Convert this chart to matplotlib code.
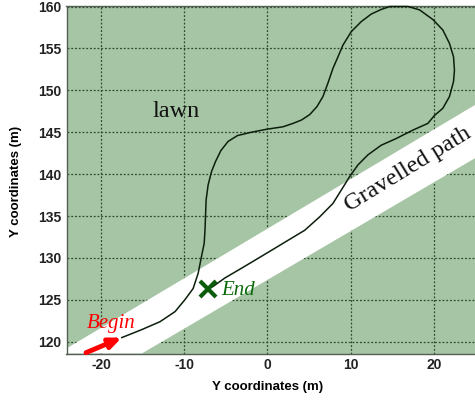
import matplotlib
matplotlib.use('Agg')
import matplotlib.pyplot as plt

plt.rcParams['axes.unicode_minus'] = False

# trajectory (m)
path_x = [-17.5, -15.1, -12.9, -11.1, -9.93, -8.93, -8.33, -7.93, -7.6, -7.5, -7.37, -7.13, -6.72,
          -6.24, -5.6, -4.73, -3.6, -1.92, -0.12, 1.87, 3.07, 4.08, 5.08, 5.95, 6.67, 7.27, 7.87,
          8.48, 9.08, 10.08, 11.28, 12.48, 13.68, 14.7, 16.9, 18.28, 19.88, 21.08, 21.88, 22.37,
          22.48, 22.37, 21.88, 21.08, 20.08, 19.28, 17.48, 15.48, 13.68, 12.08, 10.88, 9.88, 8.88,
          7.87, 6.28, 4.48, 2.47, -0.12, -2.73, -5.13, -6.53, -7.2]
path_y = [120.5, 121.45, 122.4, 123.6, 125.0, 126.35, 128.15, 130.15, 131.75, 133.4, 136.9, 138.7,
          140.3, 141.5, 142.8, 143.9, 144.6, 145.0, 145.35, 145.65, 146.05, 146.45, 147.1, 148.05,
          149.25, 150.85, 152.6, 154.0, 155.4, 157.0, 158.2, 159.1, 159.65, 160.0, 160.0, 159.6,
          158.45, 157.2, 155.6, 154.0, 152.4, 151.05, 149.25, 147.85, 147.0, 146.05, 145.25,
          144.25, 143.45, 142.3, 141.1, 139.7, 138.1, 136.5, 134.9, 133.3, 132.1, 130.55, 129.0,
          127.6, 126.6, 126.3]

# gravelled path outline
band_x = [-24.15, 24.95, 24.95, -15.1, -24.15]
band_y = [119.2, 148.25, 141.9, 118.6, 118.6]

arrow_start = (-21.8, 118.7)
arrow_end = (-17.5, 120.5)
end_point = (-7.2, 126.3)

xticks = [-20, -10, 0, 10, 20]
yticks = [120, 125, 130, 135, 140, 145, 150, 155, 160]

W, H = 475, 405
fig = plt.figure(figsize=(W / 100, H / 100), dpi=100)
ax = fig.add_axes([66.5 / W, 1 - 353.5 / H, (W - 66.5) / W, (353.5 - 6.5) / H])

ax.set_facecolor('#a6c5a5')
ax.fill(band_x, band_y, color='white', lw=0, zorder=1)
ax.set_xlim(-24.15, 24.95)
ax.set_ylim(118.6, 160)

ax.set_xticks(xticks)
ax.set_yticks(yticks)
ax.grid(True, color='#2f4a2f', linestyle=(0, (1.5, 1.5)), linewidth=0.9)
ax.set_axisbelow(True)
ax.tick_params(length=0, labelsize=10)
ax.tick_params(axis='x', pad=3)
for lab in ax.get_xticklabels() + ax.get_yticklabels():
    lab.set_family('Liberation Sans')
    lab.set_weight('bold')
    lab.set_color('#222222')

for side in ['top', 'bottom', 'left']:
    ax.spines[side].set_color('#555f55')
    ax.spines[side].set_linewidth(1.0)
ax.spines['right'].set_visible(False)

ax.plot(path_x, path_y, color='#0c1f0c', linewidth=1.1, zorder=4, clip_on=False,
        solid_joinstyle='round')

ax.annotate('', xy=arrow_end, xytext=arrow_start, annotation_clip=False, zorder=5,
            arrowprops=dict(arrowstyle='-|>,head_length=0.7,head_width=0.3', color='#ff0000',
                            lw=3.5, shrinkA=0, shrinkB=0))
ax.plot(*end_point, marker='x', color='#0a5c0a', markersize=12, markeredgewidth=3, zorder=5)

serif = 'Liberation Serif'
ax.text(-13.8, 146.85, 'lawn', family=serif, fontsize=17.5, color='#111111', va='baseline')
ax.text(16.9, 140.6, 'Gravelled path', family=serif, fontsize=17.5, color='#111111', rotation=31.5,
        ha='center', va='center', rotation_mode='anchor')
ax.text(-21.65, 121.6, 'Begin', family=serif, style='italic', fontsize=15, color='#ff0000')
ax.text(-5.6, 125.6, 'End', family=serif, style='italic', fontsize=15, color='#0a6a0a')

fig.text(267.5 / W, 1 - 387 / H, 'Y coordinates (m)', family='Liberation Sans', weight='bold',
         fontsize=9.5, ha='center', va='center')
fig.text(16.5 / W, 1 - 181 / H, 'Y coordinates (m)', family='Liberation Sans', weight='bold',
         fontsize=9.5, ha='center', va='center', rotation=90)

fig.savefig('out.png', dpi=100)
